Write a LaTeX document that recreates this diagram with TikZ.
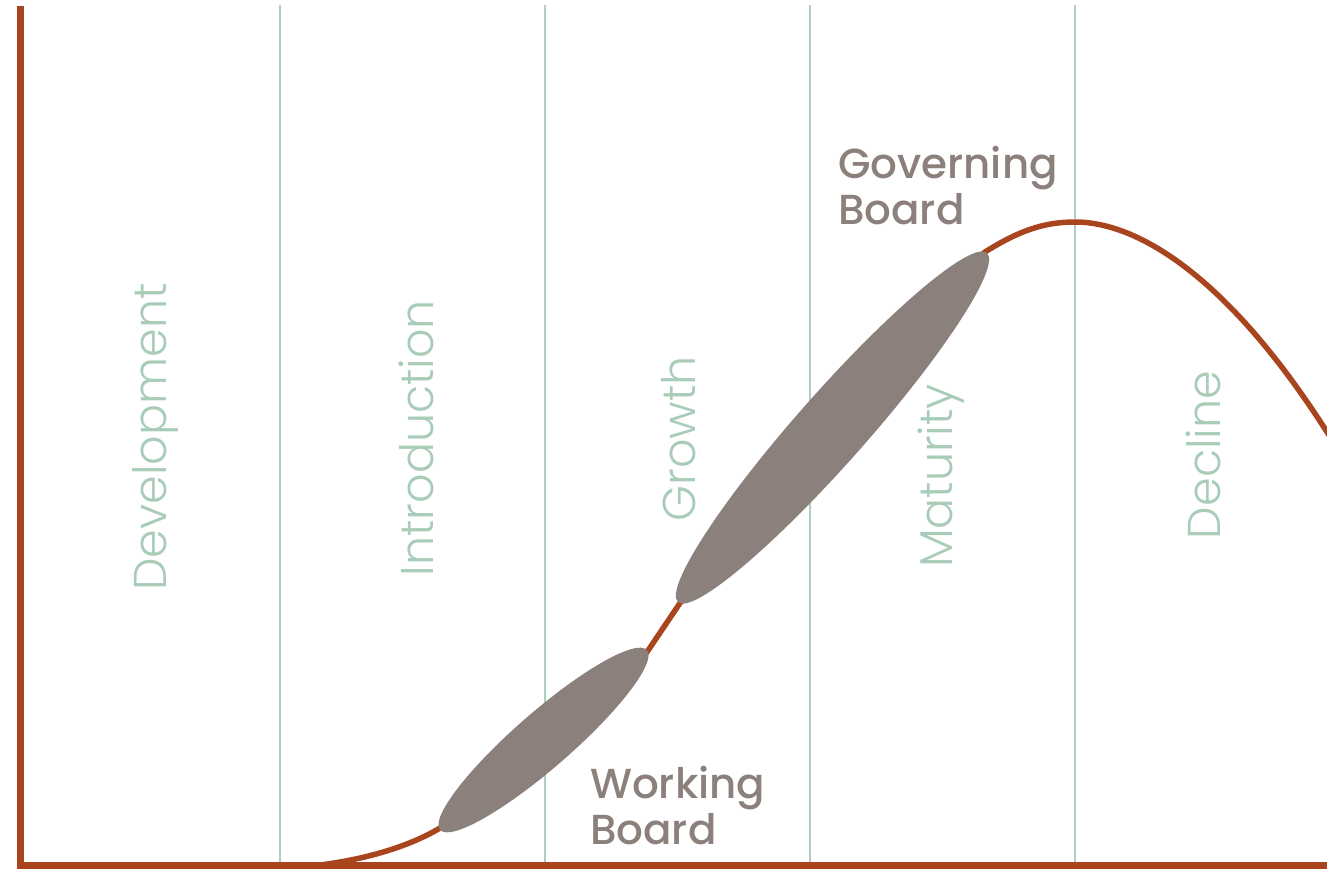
\documentclass[tikz,border=0pt]{standalone}
\usepackage{fontspec}
\setmainfont{Poppins Medium}
\newfontfamily\stagefont{Poppins Light}
\usetikzlibrary{shapes.geometric}
\definecolor{rust}{RGB}{168,69,31}
\definecolor{gridgreen}{RGB}{172,207,189}
\definecolor{stagegreen}{RGB}{168,204,184}
\definecolor{boardgray}{RGB}{140,128,124}
\begin{document}
\begin{tikzpicture}[x=1pt,y=-1pt,
  gridline/.style={draw=gridgreen,line width=2.2pt},
  axisline/.style={draw=rust,line width=7pt,line join=miter},
  lifecurve/.style={draw=rust,line width=5.5pt},
  stagelabel/.style={rotate=90,text=stagegreen,font=\stagefont\fontsize{46}{46}\selectfont,inner sep=0pt},
  boardblob/.style={ellipse,fill=boardgray,draw=none,inner sep=0pt},
  boardlabel/.style={text=boardgray,font=\fontsize{42}{46}\selectfont,align=left,anchor=north west,inner sep=0pt}]
\useasboundingbox (0,0) rectangle (1327,868);
\clip (0,0) rectangle (1327,868);
\fill[white] (0,0) rectangle (1327,868);

% stage dividers
\foreach \gx in {280,545,810,1075}
  \draw[gridline] (\gx,5) -- (\gx,865);

% stage names
\node[stagelabel] (dev)   at (155,437) {Development};
\node[stagelabel] (intro) at (416,438) {Introduction};
\node[stagelabel] (grow)  at (679,439) {Growth};
\node[stagelabel] (mat)   at (941,476) {Maturity};
\node[stagelabel] (dec)   at (1203,455) {Decline};

% axes
\draw[axisline] (20,6) -- (20,865) -- (1340,865);

% life-cycle curve
\draw[lifecurve] (320,865) .. controls (375,858) and (415,843) .. (440,828)
  .. controls (520,780) and (600,720) .. (645,655) -- (680,603)
  .. controls (780,490) and (930,300) .. (985,252)
  .. controls (1020,230) and (1045,222) .. (1075,222)
  .. controls (1140,222) and (1230,280) .. (1327,432) -- (1345,460);

% board phases
\node[boardblob, minimum width=274pt, minimum height=56pt, rotate=41] (working) at (543.5,740) {};
\node[boardblob, minimum width=466pt, minimum height=70pt, rotate=48.5] (governing) at (832.5,427.5) {};

\node[boardlabel] (govtext)  at (838,146) {Governing\\Board};
\node[boardlabel] (worktext) at (590,766) {Working\\Board};
\end{tikzpicture}
\end{document}
